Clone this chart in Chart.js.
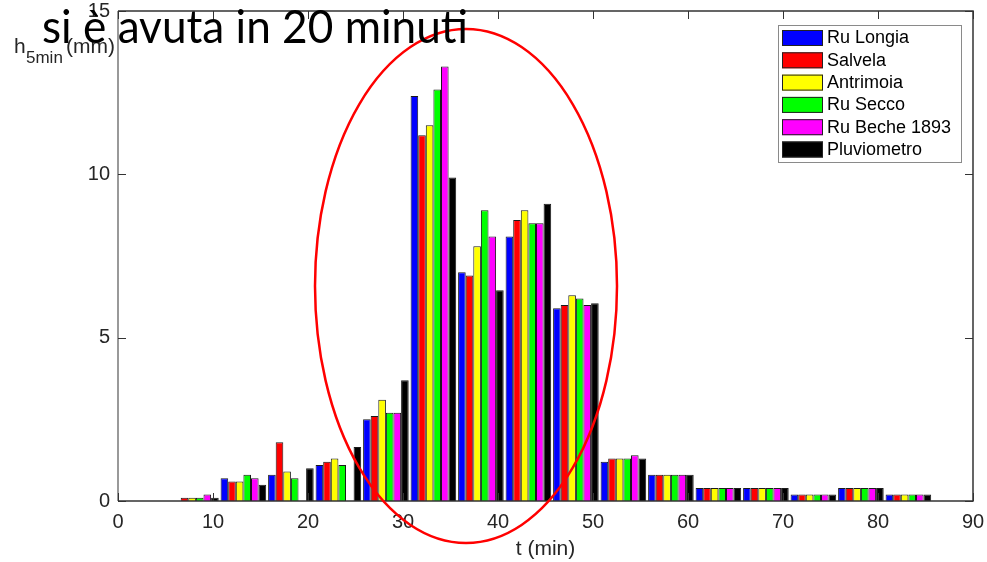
<!DOCTYPE html>
<html>
<head>
<meta charset="utf-8">
<script src="https://cdn.jsdelivr.net/npm/chart.js@4.4.1/dist/chart.umd.min.js"></script>
<style>
  html, body { margin: 0; padding: 0; background: #fff; }
</style>
</head>
<body>
<canvas id="chart" width="987" height="562"></canvas>
<script>
"use strict";

// centre of each 5 minute group (min)
const times = [8.2, 13.2, 18.2, 23.2, 28.2, 33.2, 38.2, 43.2, 48.2, 53.2, 58.2, 63.2, 68.2, 73.2, 78.2, 83.2];

// h 5min (mm) for each station
const ruLongia   = [0.0, 0.7, 0.8, 1.1, 2.5, 12.4, 7.0, 8.1, 5.9, 1.2, 0.8, 0.4, 0.4, 0.2, 0.4, 0.2];
const salvela    = [0.1, 0.6, 1.8, 1.2, 2.6, 11.2, 6.9, 8.6, 6.0, 1.3, 0.8, 0.4, 0.4, 0.2, 0.4, 0.2];
const antrimoia  = [0.1, 0.6, 0.9, 1.3, 3.1, 11.5, 7.8, 8.9, 6.3, 1.3, 0.8, 0.4, 0.4, 0.2, 0.4, 0.2];
const ruSecco    = [0.1, 0.8, 0.7, 1.1, 2.7, 12.6, 8.9, 8.5, 6.2, 1.3, 0.8, 0.4, 0.4, 0.2, 0.4, 0.2];
const ruBeche    = [0.2, 0.7, 0.0, 0.0, 2.7, 13.3, 8.1, 8.5, 6.0, 1.4, 0.8, 0.4, 0.4, 0.2, 0.4, 0.2];
const pluvio     = [0.1, 0.5, 1.0, 1.65, 3.7, 9.9, 6.45, 9.1, 6.05, 1.3, 0.8, 0.4, 0.4, 0.2, 0.4, 0.2];

const seriesNames  = ["Ru Longia", "Salvela", "Antrimoia", "Ru Secco", "Ru Beche 1893", "Pluviometro"];
const seriesValues = [ruLongia, salvela, antrimoia, ruSecco, ruBeche, pluvio];
const seriesColours = ["#0000ff", "#ff0000", "#ffff00", "#00ff00", "#ff00ff", "#000000"];

const xTicks = [0, 10, 20, 30, 40, 50, 60, 70, 80, 90];
const yTicks = [0, 5, 10, 15];

const axisColour = "#262626";

let datasets = [];
for (let i = 0; i < seriesNames.length; i++) {
    datasets.push({
        label: seriesNames[i],
        data: times.map((t, j) => ({ x: t, y: seriesValues[i][j] })),
        backgroundColor: seriesColours[i],
        borderColor: "#1a1a1a",
        borderWidth: 1,
        borderSkipped: "start",
        categoryPercentage: 0.96,
        barPercentage: 1.0
    });
}

// box, inward ticks, legend, y label, red ellipse and the slide text
const overlay = {
    id: "overlay",
    afterDraw(chart) {
        const ctx = chart.ctx;
        const a = chart.chartArea;
        const xs = chart.scales.x;
        const ys = chart.scales.y;
        ctx.save();

        // axes box
        ctx.lineWidth = 1.5;
        ctx.strokeStyle = "#333";
        ctx.beginPath();
        ctx.moveTo(a.left, a.bottom); ctx.lineTo(a.right, a.bottom);
        ctx.lineTo(a.right, a.top); ctx.lineTo(a.left, a.top);
        ctx.stroke();
        ctx.strokeStyle = "#999";
        ctx.lineWidth = 2;
        ctx.beginPath();
        ctx.moveTo(a.left, a.top); ctx.lineTo(a.left, a.bottom);
        ctx.stroke();

        // inward ticks
        ctx.strokeStyle = "#333";
        ctx.lineWidth = 1;
        ctx.beginPath();
        xTicks.forEach(v => {
            const px = Math.round(xs.getPixelForValue(v)) + 0.5;
            ctx.moveTo(px, a.bottom); ctx.lineTo(px, a.bottom - 8);
            ctx.moveTo(px, a.top); ctx.lineTo(px, a.top + 8);
        });
        yTicks.forEach(v => {
            const py = Math.round(ys.getPixelForValue(v)) + 0.5;
            ctx.moveTo(a.left, py); ctx.lineTo(a.left + 8, py);
            ctx.moveTo(a.right, py); ctx.lineTo(a.right - 8, py);
        });
        ctx.stroke();

        // legend in the upper right corner
        const lx = 778, ly = 25, lw = 183, lh = 137;
        ctx.fillStyle = "#fff";
        ctx.fillRect(lx, ly, lw, lh);
        ctx.strokeStyle = "#8a8a8a";
        ctx.lineWidth = 1;
        ctx.strokeRect(lx + 0.5, ly + 0.5, lw, lh);
        ctx.font = "18px 'Liberation Sans', Arial, sans-serif";
        ctx.textBaseline = "middle";
        ctx.textAlign = "left";
        chart.data.datasets.forEach((ds, i) => {
            const ry = 30 + i * 22.3;
            ctx.fillStyle = ds.backgroundColor;
            ctx.fillRect(782, ry, 41, 16);
            ctx.strokeStyle = "#222";
            ctx.strokeRect(782.5, ry + 0.5, 40, 15);
            ctx.fillStyle = "#000";
            ctx.fillText(ds.label, 827, ry + 8.5);
        });

        // y axis label h_5min(mm)
        ctx.fillStyle = axisColour;
        ctx.textBaseline = "alphabetic";
        ctx.font = "21px 'Liberation Sans', Arial, sans-serif";
        ctx.fillText("h", 14, 53);
        ctx.font = "17px 'Liberation Sans', Arial, sans-serif";
        ctx.fillText("5min", 26, 63);
        ctx.font = "21px 'Liberation Sans', Arial, sans-serif";
        ctx.fillText("(mm)", 66, 53);

        // red ellipse
        ctx.strokeStyle = "#ff0000";
        ctx.lineWidth = 2.5;
        ctx.beginPath();
        ctx.ellipse(466, 286, 151, 257, 0, 0, Math.PI * 2);
        ctx.stroke();

        // slide text, squeezed to the width it has in the slide
        const txt = "si è avuta in 20 minuti";
        ctx.font = "46px Lato, 'Open Sans', sans-serif";
        const w = ctx.measureText(txt).width;
        ctx.translate(42, 43);
        ctx.scale(426 / w, 1);
        ctx.fillStyle = "#000";
        ctx.fillText(txt, 0, 0);

        ctx.restore();
    }
};

new Chart(document.getElementById("chart").getContext("2d"), {
    type: "bar",
    data: { datasets: datasets },
    options: {
        responsive: false,
        animation: false,
        layout: { padding: { left: 0, right: 14, top: 11, bottom: 0 } },
        plugins: {
            legend: { display: false },
            tooltip: { enabled: false }
        },
        scales: {
            x: {
                type: "linear",
                min: 0,
                max: 90,
                offset: false,
                grid: { display: false, offset: false },
                border: { display: false },
                afterBuildTicks: s => { s.ticks = xTicks.map(v => ({ value: v })); },
                afterFit: s => { s.height = 61; s.paddingLeft = 0; s.paddingRight = 0; },
                ticks: {
                    color: axisColour,
                    padding: 1,
                    maxRotation: 0,
                    font: { family: "'Liberation Sans', Arial, sans-serif", size: 20 }
                },
                title: {
                    display: true,
                    text: "t (min)",
                    color: axisColour,
                    padding: { top: 0, bottom: 0 },
                    font: { family: "'Liberation Sans', Arial, sans-serif", size: 21 }
                }
            },
            y: {
                min: 0,
                max: 15,
                grid: { display: false },
                border: { display: false },
                afterBuildTicks: s => { s.ticks = yTicks.map(v => ({ value: v })); },
                afterFit: s => { s.width = 118; s.paddingTop = 0; s.paddingBottom = 0; },
                ticks: {
                    color: axisColour,
                    padding: 0,
                    font: { family: "'Liberation Sans', Arial, sans-serif", size: 20 }
                }
            }
        }
    },
    plugins: [overlay]
});
</script>
</body>
</html>
